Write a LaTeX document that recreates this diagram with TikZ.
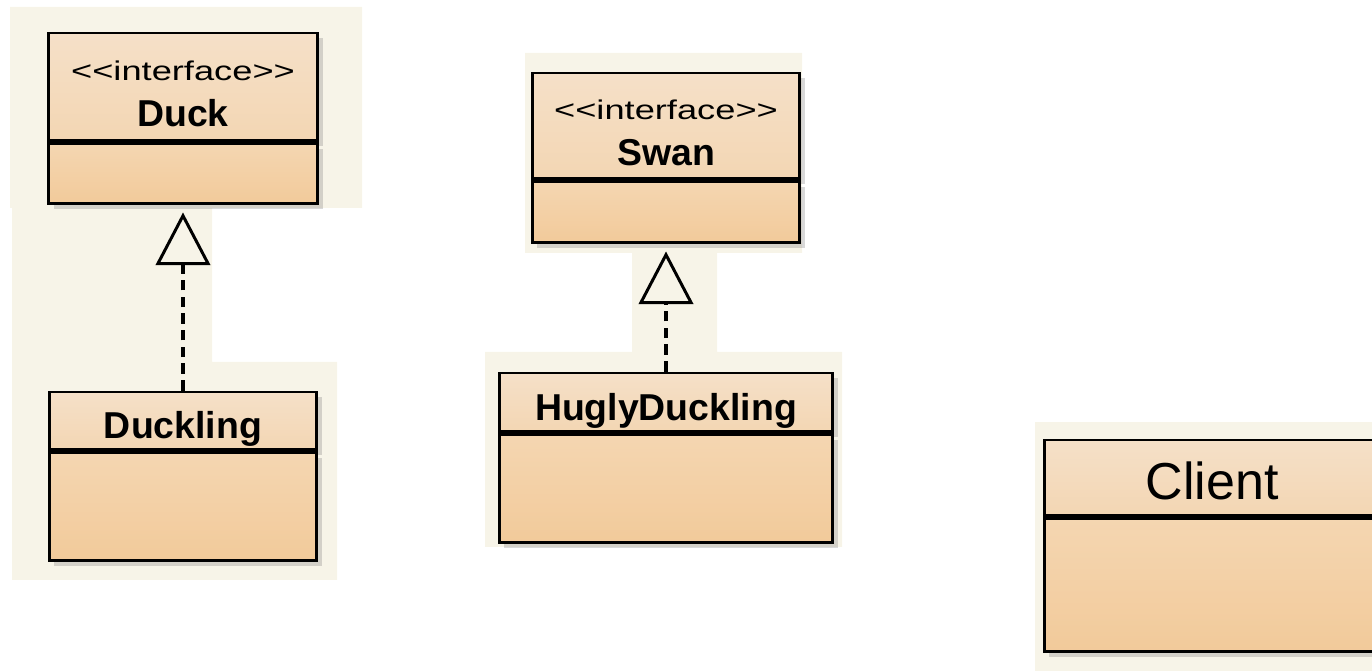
\documentclass[tikz,border=0pt]{standalone}
\usepackage{fontspec}
\setmainfont{Liberation Sans}
\usetikzlibrary{positioning,arrows.meta,shadows}
\definecolor{headTop}{HTML}{F5E0C8}
\definecolor{headBot}{HTML}{F3D6B3}
\definecolor{bodyTop}{HTML}{F4D6B1}
\definecolor{bodyBot}{HTML}{F2CA9A}
\definecolor{paper}{HTML}{F7F4E8}
\newcommand{\ifaceLabel}{\rule{0pt}{19pt}\scalebox{1.34}[1]{\fontsize{15.4}{16}\mdseries\selectfont <\kern0pt<interface>\kern0pt>}}
\begin{document}
\begin{tikzpicture}
[x=0.02cm,y=-0.02cm,%
  boxShadow/.style={drop shadow={shadow xshift=3pt,shadow yshift=-3pt,opacity=0.3}},%
  headDecorate/.style={shape=rectangle,draw,line width=1.7pt,top color=headTop,bottom color=headBot,
    inner sep=0pt,align=center,font=\bfseries\fontsize{21.3}{26.7}\selectfont,boxShadow},%
  oneLine/.style={text height=20pt,text depth=0pt},%
  bodyDecorate/.style={shape=rectangle,draw,line width=1.7pt,top color=bodyTop,bottom color=bodyBot,
    inner sep=0pt,boxShadow},%
  realizeLine/.style={dash pattern=on 6pt off 3.5pt,line width=2pt,shorten >=4pt,
    -{Triangle[open,length=30pt,width=31pt,line width=1.7pt]}}]
\useasboundingbox (0,0) rectangle (1372,671);
%% screenshot patches
\fill[paper] (10,7) rectangle (362,208) (12,208) rectangle (212,362) (12,362) rectangle (337,580);
\fill[paper] (525,53) rectangle (802,253) (632,253) rectangle (717,352) (485,352) rectangle (842,547);
\fill[paper] (1035,422) rectangle (1372,671);
%% interfaces
\foreach \nodename/\x/\y/\w/\h/\b/\txt in {duck/183/87/5.38/2.16/1.2/Duck, swan/666/126/5.36/2.12/1.22/Swan}
{
  \node (\nodename) at (\x,\y) [headDecorate,minimum width=\w cm,minimum height=\h cm] {\ifaceLabel\\\txt};
  \node (\nodename Body) [below=0pt of \nodename,bodyDecorate,minimum width=\w cm,minimum height=\b cm] {};
}
%% classes
\foreach \nodename/\x/\y/\w/\h/\b/\txt in {duckling/183/421/5.36/1.16/2.16/Duckling, hugly/666/402.5/6.68/1.18/2.16/HuglyDuckling}
{
  \node (\nodename) at (\x,\y) [headDecorate,oneLine,minimum width=\w cm,minimum height=\h cm] {\txt};
  \node (\nodename Body) [below=0pt of \nodename,bodyDecorate,minimum width=\w cm,minimum height=\b cm] {};
}
\node (client) at (1212,478) [headDecorate,oneLine,text height=25pt,font=\fontsize{29.6}{34}\selectfont,
  minimum width=6.72cm,minimum height=1.52cm] {Client};
\node (clientBody) [below=0pt of client,bodyDecorate,minimum width=6.72cm,minimum height=2.66cm] {};
%% realizations
\path
\foreach \startnode/\endnode in {duckling/duckBody, hugly/swanBody}
{
  (\startnode.north) edge[realizeLine] (\endnode.south)
};
\end{tikzpicture}
\end{document}
